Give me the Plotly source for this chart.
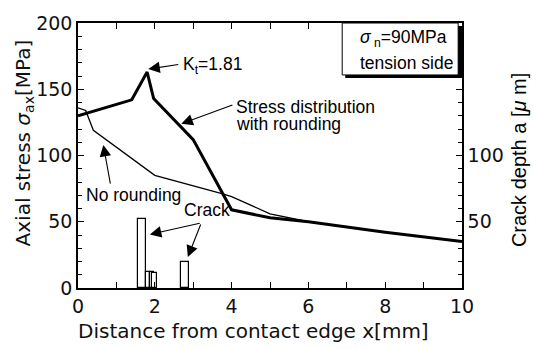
import plotly.graph_objects as go

# Axial stress along the surface, measured from the contact edge
x_round = [0, 1.4, 1.8, 1.97, 3.0, 4.0, 5.0, 6.0, 8.0, 10.0]
s_round = [130, 142, 163, 143, 112, 59, 53, 50, 42, 35]
x_sharp = [0, 0.2, 0.4, 2.0, 3.77, 4.0, 5.0, 6.0, 8.0, 10.0]
s_sharp = [136, 134, 119, 85, 71, 69, 56, 50, 42, 35]

# Observed cracks: location x [mm], band width [mm], depth a [um]
crack_x = [1.67, 1.825, 1.935, 1.995, 2.79]
crack_w = [0.20, 0.11, 0.11, 0.13, 0.20]
crack_depth = [52, 12.3, 11.8, 11, 20]

x_ticks = [0, 2, 4, 6, 8, 10]
y_ticks = [0, 50, 100, 150, 200]
y2_ticks = [0, 50, 100, 150, 200]
y2_text = ["", "50", "100", "", ""]

AX_FONT = dict(family="DejaVu Sans", size=19, color="#111")
TXT_FONT = dict(family="Liberation Sans, Arial", size=17.5, color="black")
TITLE_FONT = dict(family="DejaVu Sans", size=20, color="#111")

fig = go.Figure()

fig.add_trace(go.Bar(
    x=crack_x, y=crack_depth, width=crack_w, yaxis="y2",
    marker=dict(color="white", line=dict(color="black", width=1.2)),
    showlegend=False,
))
fig.add_trace(go.Scatter(
    x=x_sharp, y=s_sharp, mode="lines",
    line=dict(color="black", width=1.3), showlegend=False,
))
fig.add_trace(go.Scatter(
    x=x_round, y=s_round, mode="lines",
    line=dict(color="black", width=3), showlegend=False,
))

axis_common = dict(
    showline=True, linecolor="black", linewidth=1.5,
    ticks="inside", ticklen=6, tickwidth=1.2, tickcolor="black",
    showgrid=False, zeroline=False, tickfont=AX_FONT,
)

fig.update_layout(
    width=533, height=349,
    margin=dict(l=78, r=71, t=14, b=61),
    paper_bgcolor="white", plot_bgcolor="white",
    barmode="overlay", bargap=0,
    xaxis=dict(
        range=[0, 10], tickvals=x_ticks, mirror="allticks",
        minor=dict(dtick=1, ticks="inside", ticklen=5, tickcolor="black"),
        **axis_common,
    ),
    yaxis=dict(
        range=[0, 200], tickvals=y_ticks,
        minor=dict(dtick=10, ticks="inside", ticklen=4, tickcolor="black"),
        **axis_common,
    ),
    yaxis2=dict(
        range=[0, 200], tickvals=y2_ticks, ticktext=y2_text,
        overlaying="y", side="right",
        minor=dict(dtick=10, ticks="inside", ticklen=4, tickcolor="black"),
        **axis_common,
    ),
)

# Legend box with drop shadow in the upper-right corner
fig.add_shape(type="rect", xref="x", yref="y", x0=6.96, x1=10.0, y0=158.4, y1=197.8,
              fillcolor="black", line=dict(width=0), layer="above")
fig.add_shape(type="rect", xref="x", yref="y", x0=6.88, x1=9.9, y0=160.8, y1=200,
              fillcolor="white", line=dict(color="black", width=1), layer="above")

def label(text, x, y, font=TXT_FONT):
    fig.add_annotation(text=text, x=x, y=y, xref="x", yref="y",
                       xanchor="left", yanchor="middle", showarrow=False, font=font)

def arrow(x_head, y_head, x_tail, y_tail):
    fig.add_annotation(text="", x=x_head, y=y_head, ax=x_tail, ay=y_tail,
                       xref="x", yref="y", axref="x", ayref="y",
                       showarrow=True, arrowhead=2, arrowsize=2.1,
                       arrowwidth=1.1, arrowcolor="black", standoff=0)

label("<i>σ</i><sub> n</sub>=90MPa", 7.30, 188.5)
label("tension side", 7.30, 169.5)
label("K<sub>t</sub>=1.81", 2.68, 168)
label("Stress distribution", 4.06, 136.5)
label("with rounding", 4.06, 123.5)
label("No rounding", 0.16, 70.5)
label("Crack", 2.72, 58.5)

arrow(1.83, 165.2, 2.65, 168.8)
arrow(2.69, 123.9, 4.06, 138.5)
arrow(0.66, 108, 0.85, 77.6)
arrow(1.87, 40.4, 3.21, 49.1)
arrow(2.86, 23.4, 3.21, 49.1)

# Axis titles
fig.add_annotation(text="Distance from contact edge x[mm]", xref="paper", yref="paper",
                   x=0.456, y=-0.164, xanchor="center", yanchor="middle",
                   showarrow=False, font=TITLE_FONT)
fig.add_annotation(text="Axial stress <i>σ</i><sub>ax</sub>[MPa]", xref="paper", yref="paper",
                   x=-0.1406, y=0.5456, xanchor="center", yanchor="middle", textangle=-90,
                   showarrow=False, font=TITLE_FONT)
fig.add_annotation(text="Crack depth a [<i>μ</i> m]", xref="paper", yref="paper",
                   x=1.148, y=0.482, xanchor="center", yanchor="middle", textangle=-90,
                   showarrow=False, font=dict(family="Liberation Sans, Arial", size=20, color="black"))

fig.write_html("out.html")
